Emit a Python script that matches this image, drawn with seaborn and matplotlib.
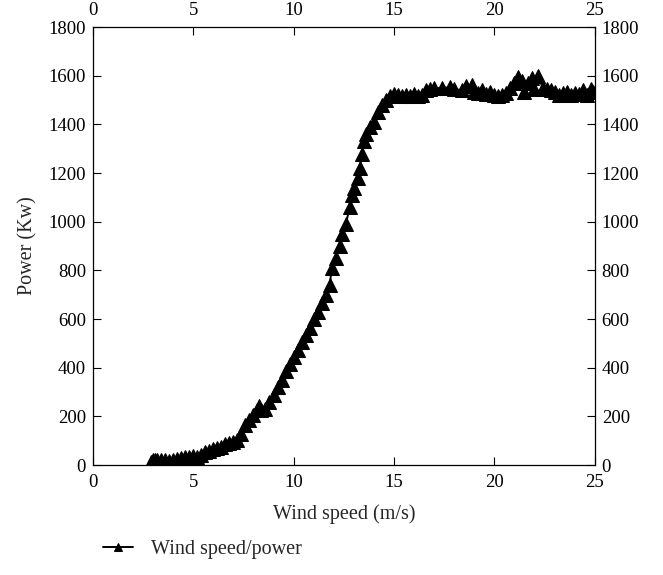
import matplotlib
matplotlib.use("Agg")
import matplotlib.pyplot as plt
import seaborn as sns
import pandas as pd

wind_speed = [2.9, 3.0, 3.1, 3.2, 3.4, 3.6, 3.8, 4.0, 4.2, 4.4, 4.6, 4.8, 5.0, 5.2, 5.4,
              5.6, 5.8, 6.0, 6.2, 6.4, 6.6, 6.8, 7.0, 7.2, 7.4, 7.6, 7.8, 8.0, 8.2, 8.3,
              8.4, 8.6, 8.8, 9.0, 9.2, 9.4, 9.6, 9.8, 10.0, 10.2, 10.4, 10.6, 10.8, 11.0,
              11.2, 11.4, 11.6, 11.8, 11.9, 12.1, 12.3, 12.4, 12.6, 12.8, 12.9, 13.0,
              13.2, 13.3, 13.4, 13.5, 13.6, 13.8, 14.0, 14.2, 14.4, 14.6, 14.8, 15.0,
              15.2, 15.4, 15.6, 15.8, 16.0, 16.2, 16.4, 16.6, 16.8, 17.0, 17.4, 17.8,
              18.0, 18.4, 18.6, 18.9, 19.0, 19.2, 19.4, 19.6, 19.8, 20.0, 20.2, 20.4,
              20.6, 20.8, 21.0, 21.2, 21.4, 21.5, 21.7, 21.9, 22.0, 22.2, 22.4, 22.6,
              22.8, 23.0, 23.2, 23.4, 23.6, 23.8, 24.0, 24.2, 24.4, 24.6, 24.8, 24.9]
power = [15, 20, 22, 20, 22, 20, 18, 20, 25, 30, 32, 35, 38, 35, 40,
         55, 60, 65, 70, 75, 85, 90, 95, 105, 130, 165, 185, 205, 225, 245,
         225, 230, 260, 290, 320, 350, 385, 415, 445, 475, 505, 535, 565, 600,
         630, 665, 700, 740, 810, 850, 900, 950, 990, 1060, 1110, 1140,
         1180, 1220, 1280, 1330, 1360, 1390, 1410, 1450, 1480, 1500, 1515, 1525,
         1520, 1515, 1520, 1515, 1525, 1515, 1520, 1540, 1545, 1548, 1550, 1552,
         1545, 1540, 1558, 1562, 1535, 1530, 1540, 1525, 1535, 1520, 1515, 1520,
         1530, 1550, 1570, 1595, 1580, 1535, 1570, 1590, 1545, 1600, 1550, 1545,
         1540, 1535, 1520, 1530, 1535, 1520, 1530, 1525, 1540, 1520, 1545, 1535]
x_ticks = [0, 5, 10, 15, 20, 25]
y_ticks = [0, 200, 400, 600, 800, 1000, 1200, 1400, 1600, 1800]
x_tick_labels = [str(v) for v in x_ticks]
y_tick_labels = [str(v) for v in y_ticks]

sns.set_style("ticks")
serif = ['Liberation Serif', 'DejaVu Serif']
plt.rcParams['font.family'] = serif
plt.rcParams['font.serif'] = serif

df = pd.DataFrame({"Wind speed": wind_speed, "Power": power})

fig = plt.figure(figsize=(6.63, 5.75), dpi=100)
ax = fig.add_axes([0.140, 0.191, 0.757, 0.762])
sns.lineplot(data=df, x="Wind speed", y="Power", marker="^", color="black",
             markersize=9.5, markeredgecolor="black", linewidth=1.4, sort=False,
             legend=False, ax=ax)

ax.set_xlim(0, 25)
ax.set_ylim(0, 1800)
ax.set_xticks(x_ticks)
ax.set_yticks(y_ticks)
ax.set_xticklabels(x_tick_labels, fontfamily=serif, fontsize=13.5)
ax.set_yticklabels(y_tick_labels, fontfamily=serif, fontsize=13.5)
ax.tick_params(direction="in", length=6, width=0.8, colors="black",
               top=True, right=True, labeltop=True, labelright=True)
ax.tick_params(axis="x", pad=6)
ax.tick_params(axis="y", pad=5)
for s in ax.spines.values():
    s.set_linewidth(0.9)
    s.set_color("black")
ax.set_xlabel("Wind speed (m/s)", fontsize=14.5, labelpad=10)
ax.set_ylabel("Power (Kw)", fontsize=14.5, labelpad=8)

line = ax.get_lines()[0]
fig.legend(handles=[line], labels=["Wind speed/power"],
           loc="center left", bbox_to_anchor=(0.155, 0.045), frameon=False,
           fontsize=14.5, handlelength=1.5, markerscale=0.6, handletextpad=0.9,
           borderaxespad=0, borderpad=0)

fig.savefig("out.png", dpi=100)
